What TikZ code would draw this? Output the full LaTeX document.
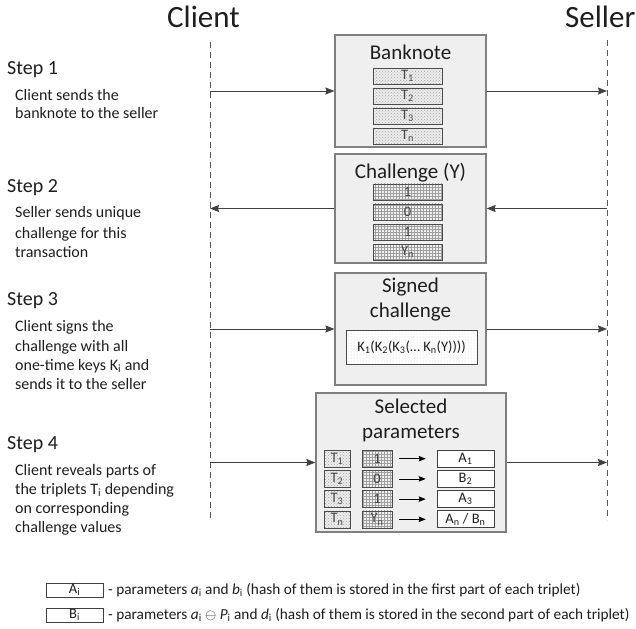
\documentclass[tikz,border=0pt]{standalone}
\usepackage{fontspec}
\setmainfont{Carlito}
\usetikzlibrary{arrows.meta,patterns}

\definecolor{boxfill}{HTML}{EFEFEF}
\definecolor{boxline}{HTML}{808080}
\definecolor{wire}{HTML}{404040}
\definecolor{ink}{HTML}{1E1E1E}

\begin{document}
\begin{tikzpicture}[x=1pt,y=-1pt,
  panel/.style={draw=boxline, line width=1.2pt, fill=boxfill, inner sep=0pt},
  heading/.style={font=\fontsize{31}{36}\selectfont, text=ink, anchor=base west, inner sep=0pt},
  steptitle/.style={font=\fontsize{20}{24}\selectfont, text=ink, anchor=base west, inner sep=0pt},
  stepline/.style={font=\fontsize{16}{19}\selectfont, text=ink, anchor=base west, inner sep=0pt},
  paneltitle/.style={font=\fontsize{21}{25}\selectfont, text=ink, anchor=base, inner sep=0pt},
  cellfont/.style={font=\fontsize{14.5}{16}\selectfont, text=black!72, inner sep=0pt},
  tripcell/.style={cellfont, draw=gray!60!black, line width=0.6pt, preaction={fill=gray!15},
    pattern=crosshatch dots, pattern color=gray!70},
  bitcell/.style={cellfont, draw=gray!60!black, line width=0.6pt, preaction={fill=gray!12},
    pattern=grid, pattern color=gray!75},
  valuecell/.style={cellfont, text=ink, draw=black!75, line width=0.7pt, fill=white,
    minimum width=57pt, minimum height=16pt},
  lifeline/.style={draw=gray!70!black, line width=0.6pt, dash pattern=on 6pt off 4pt},
  msg/.style={draw=wire, line width=0.8pt, -{Stealth[length=9pt,width=7pt,inset=1pt]}},
  pick/.style={draw=black, line width=0.8pt, -{Stealth[length=7pt,width=5.5pt,inset=1pt]}},
  legendtext/.style={font=\fontsize{15.3}{18}\selectfont, text=ink, anchor=west, inner sep=0pt}
]
\useasboundingbox (0,0) rectangle (636,628);

% Party headings and lifelines
\node[heading] (client) at (167,28) {Client};
\node[heading] (seller) at (565,28) {Seller};
\coordinate (ctop) at (210,42);
\coordinate (cbot) at (210,520);
\coordinate (stop) at (607,40);
\coordinate (sbot) at (607,520);
\draw[lifeline] (ctop) -- (cbot);
\draw[lifeline] (stop) -- (sbot);

% Step descriptions
\node[steptitle] (st1) at (7,75) {Step 1};
\node[stepline] (st1a) at (15,101) {Client sends the};
\node[stepline] (st1b) at (15,119) {banknote to the seller};

\node[steptitle] (st2) at (7,193) {Step 2};
\node[stepline] (st2a) at (15,218) {Seller sends unique};
\node[stepline] (st2b) at (15,238) {challenge for this};
\node[stepline] (st2c) at (15,257) {transaction};

\node[steptitle] (st3) at (7,305) {Step 3};
\node[stepline] (st3a) at (15,331) {Client signs the};
\node[stepline] (st3b) at (15,351) {challenge with all};
\node[stepline] (st3c) at (15,370) {one-time keys K\textsubscript{i} and};
\node[stepline] (st3d) at (15,389) {sends it to the seller};

\node[steptitle] (st4) at (7,449) {Step 4};
\node[stepline] (st4a) at (15,475) {Client reveals parts of};
\node[stepline] (st4b) at (15,494) {the triplets T\textsubscript{i} depending};
\node[stepline] (st4c) at (15,513) {on corresponding};
\node[stepline] (st4d) at (15,532) {challenge values};

% Panel 1: banknote with its triplets
\node[panel, minimum width=151pt, minimum height=112pt] (bank) at (410.5,91) {};
\node[paneltitle] (bankt) at (410.5,60) {Banknote};
\foreach \lbl [count=\i] in {T\textsubscript{1},T\textsubscript{2},T\textsubscript{3},T\textsubscript{n}}
  \node[tripcell, minimum width=69pt, minimum height=16pt] (tr\i) at (407.5,{56+20*\i}) {\lbl};

% Panel 2: challenge bits
\node[panel, minimum width=151pt, minimum height=109pt] (chal) at (410.5,208.5) {};
\node[paneltitle] (chalt) at (410.5,179) {Challenge (Y)};
\foreach \lbl [count=\i] in {1,0,1,Y\textsubscript{n}}
  \node[bitcell, minimum width=69pt, minimum height=16pt] (bit\i) at (407.5,{172+20*\i}) {\lbl};

% Panel 3: signed challenge
\node[panel, minimum width=151pt, minimum height=112pt] (sig) at (410.5,329) {};
\node[paneltitle] (sigt1) at (410.5,292) {Signed};
\node[paneltitle] (sigt2) at (410.5,317) {challenge};
\node[cellfont, text=ink, draw=gray!60!black, line width=0.6pt, preaction={fill=white},
  pattern=dots, pattern color=gray!35, minimum width=131pt, minimum height=34pt]
  (sigv) at (411.5,347) {K\textsubscript{1}(K\textsubscript{2}(K\textsubscript{3}(\dots\ K\textsubscript{n}(Y))))};

% Panel 4: selected parameters
\node[panel, minimum width=190pt, minimum height=139pt] (sel) at (411,462.5) {};
\node[paneltitle] (selt1) at (411,413) {Selected};
\node[paneltitle] (selt2) at (411,438) {parameters};
\foreach \tl/\yl/\vl [count=\i] in {T\textsubscript{1}/1/{A\textsubscript{1}},
    T\textsubscript{2}/0/{B\textsubscript{2}},
    T\textsubscript{3}/1/{A\textsubscript{3}},
    T\textsubscript{n}/Y\textsubscript{n}/{A\textsubscript{n} / B\textsubscript{n}}} {
  \node[tripcell, minimum width=26pt, minimum height=17pt] (pt\i) at (337,{438.5+20.2*\i}) {\tl};
  \node[bitcell, minimum width=30pt, minimum height=17pt] (py\i) at (377,{438.5+20.2*\i}) {\yl};
  \node[valuecell, minimum height=17pt] (pv\i) at (465.5,{438.5+20.2*\i}) {\vl};
  \draw[pick, shorten <=7pt, shorten >=11pt] (py\i) -- (pv\i);
}

% Messages between the parties
\coordinate (c1) at (210,91);   \coordinate (s1) at (607,91);
\coordinate (c2) at (210,208.5);\coordinate (s2) at (607,208.5);
\coordinate (c3) at (210,329);  \coordinate (s3) at (607,329);
\coordinate (c4) at (210,462.5);\coordinate (s4) at (607,462.5);
\draw[msg] (c1) -- (bank.west);
\draw[msg] (bank.east) -- (s1);
\draw[msg] (s2) -- (chal.east);
\draw[msg] (chal.west) -- (c2);
\draw[msg] (c3) -- (sig.west);
\draw[msg] (sig.east) -- (s3);
\draw[msg] (c4) -- (sel.west);
\draw[msg] (sel.east) -- (s4);

% Legend
\node[valuecell, minimum height=14pt] (legA) at (74.5,590) {A\textsubscript{i}};
\node[valuecell, minimum height=14pt] (legB) at (74.5,615) {B\textsubscript{i}};
\node[legendtext] (legAt) at (108,590) {- parameters \textit{a}\textsubscript{i} and \textit{b}\textsubscript{i} (hash of them is stored in the first part of each triplet)};
\node[legendtext] (legBt) at (108,615) {- parameters \textit{a}\textsubscript{i} $\ominus$ \textit{P}\textsubscript{i} and \textit{d}\textsubscript{i} (hash of them is stored in the second part of each triplet)};
\end{tikzpicture}
\end{document}
